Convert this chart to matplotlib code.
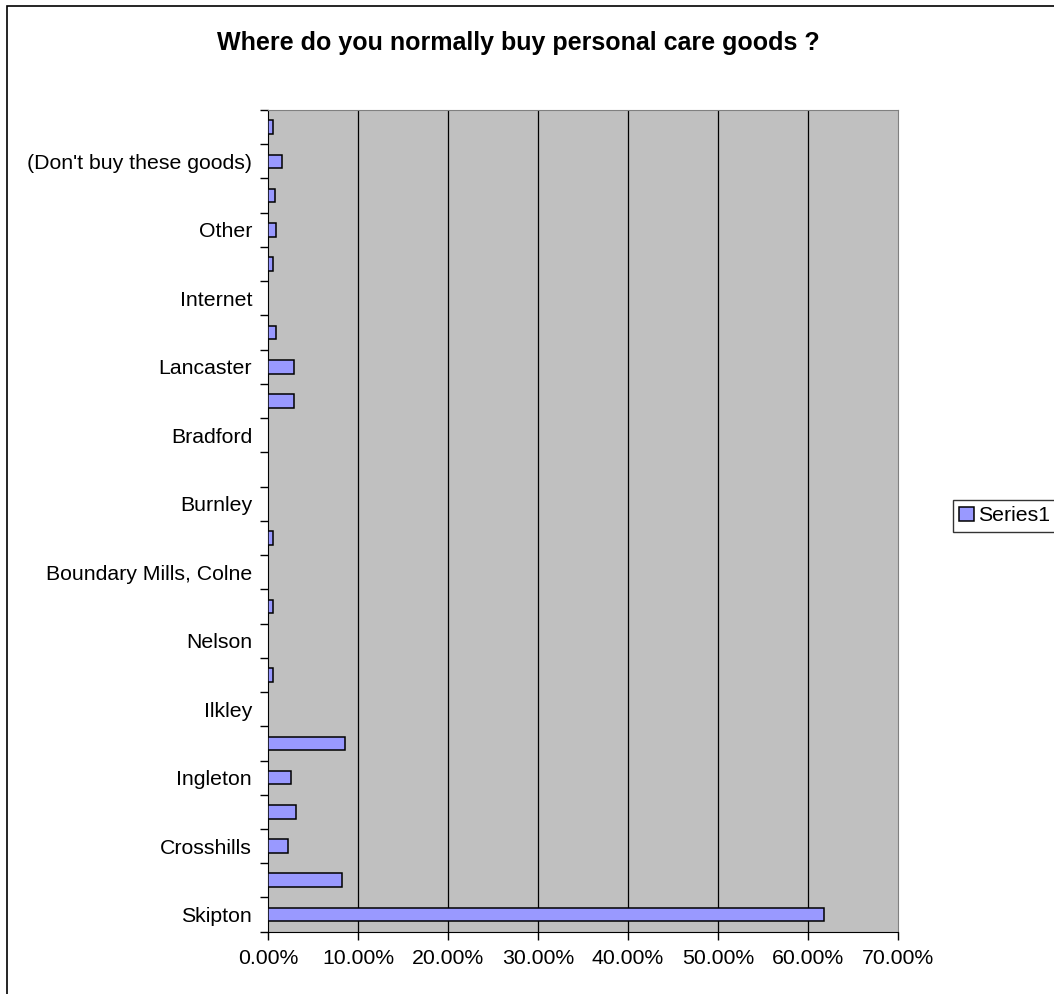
import numpy as np
import matplotlib
matplotlib.use("Agg")
from matplotlib import pyplot as plt
from matplotlib.patches import Rectangle
from matplotlib.ticker import FuncFormatter, FixedLocator

plt.rcParams['font.family'] = ['Liberation Sans', 'DejaVu Sans']

# categories bottom to top, unlabeled ones in the source are left blank
categories = ['Skipton', '', 'Crosshills', '', 'Ingleton', '', 'Ilkley', '',
              'Nelson', '', 'Boundary Mills, Colne', '', 'Burnley', '', 'Bradford', '',
              'Lancaster', '', 'Internet', '', 'Other', '', "(Don't buy these goods)", '']
values = [61.8, 8.25, 2.2, 3.1, 2.6, 8.6, 0.0, 0.6,
          0.0, 0.6, 0.0, 0.6, 0.0, 0.0, 0.0, 2.9,
          2.9, 0.9, 0.0, 0.6, 0.9, 0.8, 1.5, 0.6]
xticks = [0, 10, 20, 30, 40, 50, 60, 70]
title = 'Where do you normally buy personal care goods ?'
series_name = 'Series1'

fs = 15.3
fig = plt.figure(figsize=(10.54, 9.94), dpi=100)
W, H = 1054.0, 994.0

# chart area frame (cut off at right / bottom like the source)
fig.patches.append(Rectangle((7 / W, -0.05), 1.2, 1 - 6 / H + 0.05, transform=fig.transFigure,
                             fill=False, edgecolor='black', linewidth=1.2))

ax = fig.add_axes([268 / W, 1 - 931.7 / H, (898 - 268) / W, (931.7 - 110) / H])
ax.set_facecolor('#C0C0C0')

y = np.arange(len(categories))
ax.barh(y, values, height=0.4, color='#9999FF', edgecolor='black', linewidth=1.1,
        label=series_name, zorder=3)

ax.set_xlim(0, 70)
ax.set_ylim(-0.5, len(categories) - 0.5)
ax.set_xticks(xticks)
ax.xaxis.set_major_formatter(FuncFormatter(lambda v, p: '%.2f%%' % v))
for v in xticks[1:-1]:
    ax.axvline(v, color='black', linewidth=0.9, zorder=1)

# labels on every other category, tick marks between categories
ax.set_yticks(y[::2])
ax.set_yticklabels([categories[i] for i in y[::2]])
ax.yaxis.set_minor_locator(FixedLocator(np.arange(-0.5, len(categories), 1.0)))
ax.tick_params(axis='y', which='major', length=0, pad=11.5, labelsize=fs)
ax.tick_params(axis='y', which='minor', length=6, width=1, direction='out')
ax.tick_params(axis='x', length=6, width=1, direction='out', pad=6.5, labelsize=fs)

for s in ['top', 'right']:
    ax.spines[s].set_color('#808080')
for s in ['left', 'bottom']:
    ax.spines[s].set_color('black')

fig.text(518 / W, 1 - 43 / H, title, ha='center', va='center', fontsize=18, fontweight='bold')

leg = fig.legend(loc='upper left', bbox_to_anchor=(953 / W, 1 - 500 / H), fontsize=fs,
                 frameon=True, fancybox=False, handlelength=0.7, handleheight=0.7,
                 handletextpad=0.2, borderpad=0.3, borderaxespad=0)
leg.get_frame().set_edgecolor('black')
leg.get_frame().set_linewidth(1)

fig.savefig('out.png', dpi=100)
